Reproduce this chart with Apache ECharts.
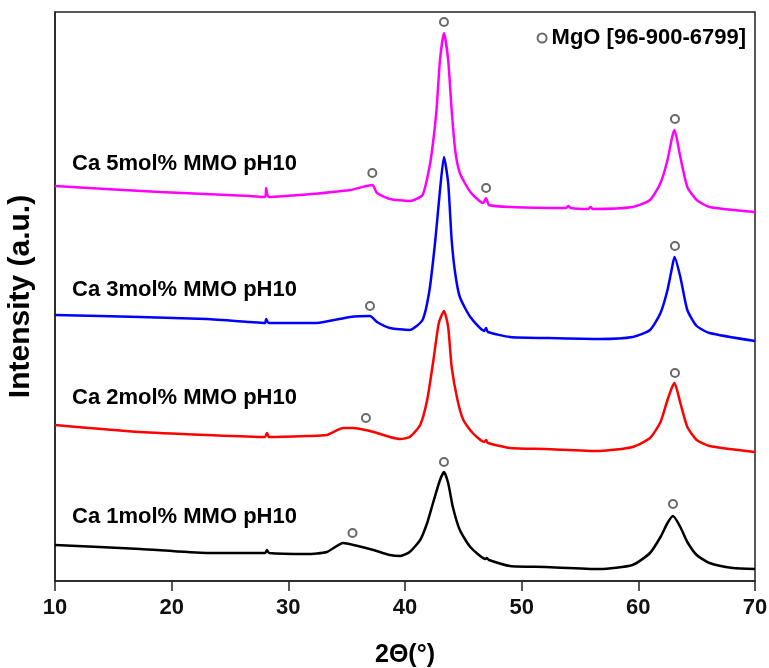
<!DOCTYPE html>
<html>
<head>
<meta charset="utf-8">
<script src="https://cdn.jsdelivr.net/npm/echarts@6.0.0/dist/echarts.min.js"></script>
<style>
  html, body { margin: 0; padding: 0; background: #fff; }
  #chart { width: 769px; height: 668px; }
</style>
</head>
<body>
<div id="chart"></div>
<script>
// 2-theta ticks
var xTicks = [10, 20, 30, 40, 50, 60, 70];

// stacked XRD patterns, [2theta, intensity (offset, a.u.)]
var ca1 = [[10, 36], [17.3, 32], [23, 28], [28.0, 28], [28.17, 31], [28.35, 28], [31.6, 27], [33.3, 29],
  [34.7, 38], [35.6, 36], [37.3, 31], [38.7, 26], [39.6, 25], [40.4, 29], [41.3, 41], [41.9, 58],
  [42.4, 78], [43.0, 101], [43.34, 109], [43.7, 98], [44.1, 74], [44.7, 51], [45.6, 34], [46.9, 22],
  [47.0, 23], [47.2, 21], [49, 15], [52, 14], [56.7, 12], [59.5, 16], [61.0, 28], [61.9, 44],
  [62.5, 58], [62.97, 65], [63.6, 54], [64.2, 39], [65.0, 26], [66.1, 18], [68.1, 13], [70, 12]];

var ca2 = [[10, 156], [17.3, 149], [23, 146], [28.0, 144], [28.17, 148], [28.35, 144], [31.6, 145],
  [33.3, 146], [34.7, 153], [35.5, 153], [37, 150], [38.7, 144], [39.6, 142], [40.4, 144], [41.3, 156],
  [41.9, 181], [42.4, 218], [42.9, 258], [43.34, 270], [43.7, 254], [44.0, 214], [44.5, 181], [45.0, 161],
  [45.8, 148], [46.8, 139], [46.95, 141], [47.1, 138], [49, 133], [52, 132], [56.7, 130], [59.5, 134],
  [61.0, 143], [61.9, 159], [62.5, 181], [62.9, 194], [63.1, 198], [63.6, 178], [64.2, 154], [65.0, 141],
  [66.1, 135], [70, 129]];

var ca3 = [[10, 266], [17.3, 264], [23, 262], [26.7, 259], [28.0, 258], [28.1, 262], [28.3, 258],
  [32.4, 258], [35.3, 264], [37, 265], [37.6, 259], [38.7, 253], [40.4, 251], [41.5, 261], [42.1, 291],
  [42.6, 341], [43.0, 391], [43.34, 424], [43.7, 398], [44.0, 341], [44.3, 308], [44.7, 284], [45.6, 264],
  [46.8, 250], [46.95, 253], [47.1, 249], [49, 244], [52, 243], [56.7, 242], [59.5, 244], [61.0, 251],
  [61.9, 268], [62.5, 291], [62.9, 314], [63.1, 324], [63.6, 304], [64.2, 271], [65.0, 255], [66.1, 248],
  [70, 240]];

var ca5 = [[10, 395], [19, 389], [26.7, 385], [28.0, 384], [28.1, 393], [28.3, 384], [32, 387],
  [35.3, 391], [37.2, 396], [37.6, 388], [38.7, 382], [40.4, 380], [41.5, 386], [42.1, 414], [42.4, 438],
  [42.7, 471], [43.0, 521], [43.34, 548], [43.7, 521], [44.0, 471], [44.3, 431], [44.7, 408], [45.6, 389],
  [46.7, 378], [46.95, 383], [47.2, 376], [49, 374], [53.8, 373], [54, 375], [54.2, 373], [55.7, 372],
  [55.9, 374], [56.1, 372], [59.5, 374], [61.0, 381], [61.9, 398], [62.5, 421], [62.9, 444], [63.1, 451],
  [63.6, 424], [64.2, 394], [65.0, 381], [66.1, 374], [70, 369]];

// MgO reflections marked with open circles
var mgoMarks = [[35.5, 48], [43.34, 119], [62.97, 77],
  [36.65, 163], [63.14, 208],
  [37.0, 275], [63.14, 335],
  [37.2, 408], [43.34, 559], [46.95, 393], [63.14, 462]];

var seriesNames = ["Ca 1mol% MMO pH10", "Ca 2mol% MMO pH10", "Ca 3mol% MMO pH10", "Ca 5mol% MMO pH10"];
var seriesColors = ["#000000", "#ff0000", "#0000ff", "#ff00ff"];
var labelTops = [518, 399, 291, 165];

var chartDom = document.getElementById("chart");
var myChart = echarts.init(chartDom);
var font = "'Liberation Sans', Arial, sans-serif";

var lineSeries = [ca1, ca2, ca3, ca5].map(function (d, i) {
  return {
    name: seriesNames[i],
    type: "line",
    data: d,
    showSymbol: false,
    smooth: 0.2,
    lineStyle: { color: seriesColors[i], width: 2.5 },
    z: 2
  };
});

var labels = seriesNames.map(function (n, i) {
  return {
    type: "text",
    left: 72,
    top: labelTops[i] - 12,
    style: { text: n, font: "bold 22px " + font, fill: "#000" }
  };
});

var option = {
  animation: false,
  grid: {
    left: 55, right: 14, top: 12, bottom: 87,
    containLabel: false, outerBoundsMode: "none",
    show: true, borderColor: "#222", borderWidth: 1.5
  },
  legend: {
    data: [{ name: "MgO [96-900-6799]", icon: "emptyCircle" }],
    right: 18,
    top: 22,
    itemWidth: 9,
    itemHeight: 9,
    itemGap: 4,
    textStyle: { fontFamily: font, fontWeight: "bold", fontSize: 22, color: "#000" }
  },
  xAxis: {
    type: "value",
    min: xTicks[0],
    max: xTicks[xTicks.length - 1],
    interval: 10,
    name: "2Θ(°)",
    nameLocation: "middle",
    nameGap: 62,
    nameTextStyle: { fontFamily: font, fontWeight: "bold", fontSize: 25, color: "#000" },
    axisLine: { lineStyle: { color: "#222", width: 1.5 } },
    axisTick: { length: 10, lineStyle: { color: "#222", width: 1.5 } },
    axisLabel: { fontFamily: font, fontWeight: "bold", fontSize: 22, color: "#111", margin: 16 },
    splitLine: { show: false }
  },
  yAxis: {
    type: "value",
    min: 0,
    max: 569,
    name: "Intensity (a.u.)",
    nameLocation: "middle",
    nameGap: 19,
    nameTextStyle: { fontFamily: font, fontWeight: "bold", fontSize: 30, color: "#000" },
    axisLine: { show: true, lineStyle: { color: "#222", width: 1.5 } },
    axisTick: { show: false },
    axisLabel: { show: false },
    splitLine: { show: false }
  },
  graphic: labels,
  series: lineSeries.concat([{
    name: "MgO [96-900-6799]",
    type: "scatter",
    data: mgoMarks,
    symbol: "emptyCircle",
    symbolSize: 8,
    itemStyle: { color: "#444", borderColor: "#444", borderWidth: 1.5 },
    z: 3
  }])
};

option && myChart.setOption(option);
</script>
</body>
</html>
